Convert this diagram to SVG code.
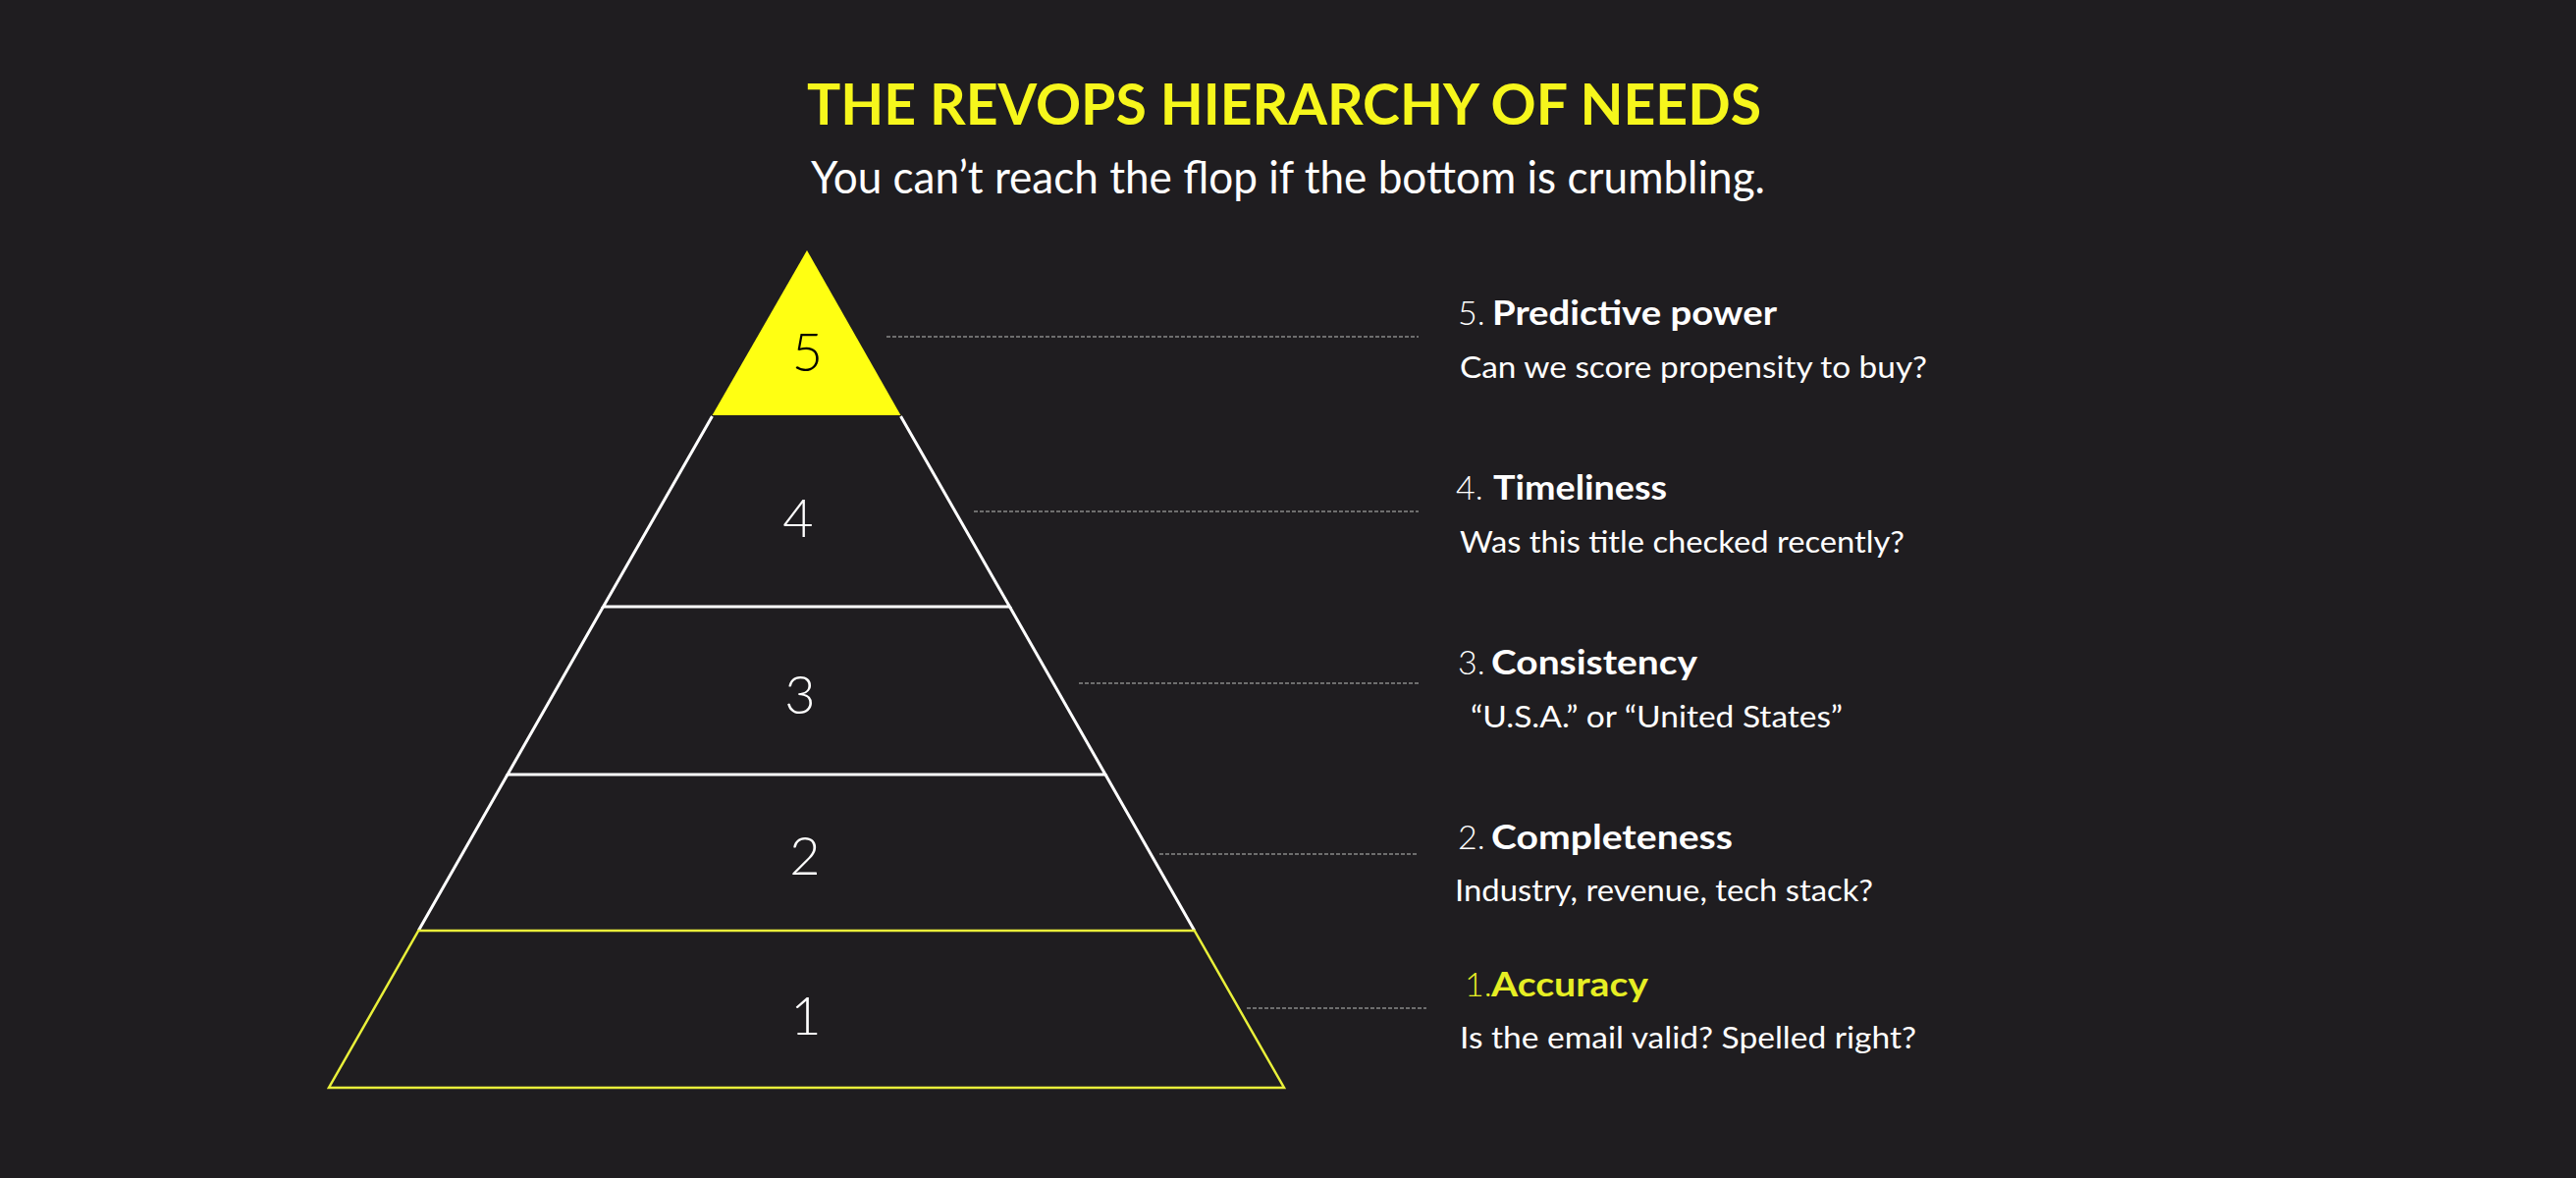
<svg xmlns="http://www.w3.org/2000/svg" width="2624" height="1200" viewBox="0 0 2624 1200">
<style>
.bg{fill:#1f1d20}
.title{font-family:Lato,"Liberation Sans",sans-serif;font-weight:700;font-size:58px;fill:#f6f61c}
.sub{font-family:Lato,"Liberation Sans",sans-serif;font-weight:400;font-size:46px;fill:#ffffff}
.num{font-family:Lato,"Liberation Sans",sans-serif;font-weight:300;font-size:54px;fill:#ffffff;text-anchor:middle}
.edge{fill:none;stroke:#ffffff;stroke-width:3;stroke-linecap:butt}
.edgey{fill:none;stroke:#e9f03a;stroke-width:2.5}
.idx{font-family:Lato,"Liberation Sans",sans-serif;font-weight:300;font-size:34px;fill:#ffffff}
.lbl{font-family:Lato,"Liberation Sans",sans-serif;font-weight:700;font-size:34px;fill:#ffffff}
.desc{font-family:Lato,"Liberation Sans",sans-serif;font-weight:400;font-size:31px;fill:#ffffff}
.acc{fill:#e6ee24}
.dash{fill:none;stroke:#6e6e6e;stroke-width:2;stroke-dasharray:4 2}
</style>
<rect class="bg" x="0" y="0" width="2624" height="1200"/>
<g id="header">
<text class="title" x="822" y="127" textLength="972" lengthAdjust="spacingAndGlyphs">THE REVOPS HIERARCHY OF NEEDS</text>
<text class="sub" x="826" y="197" textLength="972" lengthAdjust="spacingAndGlyphs">You can’t reach the flop if the bottom is crumbling.</text>
</g>
<g id="tier5">
<polygon points="822,255 917.5,423 725.5,423" fill="#ffff12"/>
<text class="num" x="822.5" y="378" style="fill:#000000">5</text>
</g>
<g id="tier4">
<path class="edge" d="M725.5,424 L614.5,618 L1028.5,618 L917.5,424"/>
<text class="num" x="813" y="547">4</text>
</g>
<g id="tier3">
<path class="edge" d="M614.5,618 L517,789 L1126,789 L1028.5,618"/>
<text class="num" x="815" y="727">3</text>
</g>
<g id="tier2">
<path class="edge" d="M517,789 L426.3,948 M1126,789 L1216.7,948"/>
<text class="num" x="820" y="891">2</text>
</g>
<g id="tier1">
<polygon class="edgey" points="426.3,948 1216.7,948 1308,1108 335,1108"/>
<text class="num" x="821" y="1054">1</text>
</g>
<g id="connectors">
<line class="dash" x1="903" y1="343" x2="1445" y2="343"/>
<line class="dash" x1="992" y1="521" x2="1445" y2="521"/>
<line class="dash" x1="1099" y1="696" x2="1445" y2="696"/>
<line class="dash" x1="1181" y1="870" x2="1445" y2="870"/>
<line class="dash" x1="1270" y1="1027" x2="1453" y2="1027"/>
</g>
<g id="label5">
<text class="idx" x="1485" y="331">5.</text>
<text class="lbl" x="1520" y="331" textLength="290" lengthAdjust="spacingAndGlyphs">Predictive power</text>
<text class="desc" x="1487" y="385" textLength="476" lengthAdjust="spacingAndGlyphs">Can we score propensity to buy?</text>
</g>
<g id="label4">
<text class="idx" x="1483" y="509">4.</text>
<text class="lbl" x="1521" y="509" textLength="177" lengthAdjust="spacingAndGlyphs">Timeliness</text>
<text class="desc" x="1487" y="563" textLength="453" lengthAdjust="spacingAndGlyphs">Was this title checked recently?</text>
</g>
<g id="label3">
<text class="idx" x="1485" y="687">3.</text>
<text class="lbl" x="1519" y="687" textLength="210" lengthAdjust="spacingAndGlyphs">Consistency</text>
<text class="desc" x="1498" y="741" textLength="379" lengthAdjust="spacingAndGlyphs">“U.S.A.” or “United States”</text>
</g>
<g id="label2">
<text class="idx" x="1485" y="865">2.</text>
<text class="lbl" x="1519" y="865" textLength="246" lengthAdjust="spacingAndGlyphs">Completeness</text>
<text class="desc" x="1482" y="918" textLength="426" lengthAdjust="spacingAndGlyphs">Industry, revenue, tech stack?</text>
</g>
<g id="label1">
<text class="idx acc" x="1492" y="1015">1.</text>
<text class="lbl acc" x="1519" y="1015" textLength="160" lengthAdjust="spacingAndGlyphs">Accuracy</text>
<text class="desc" x="1487" y="1068" textLength="465" lengthAdjust="spacingAndGlyphs">Is the email valid? Spelled right?</text>
</g>
</svg>
